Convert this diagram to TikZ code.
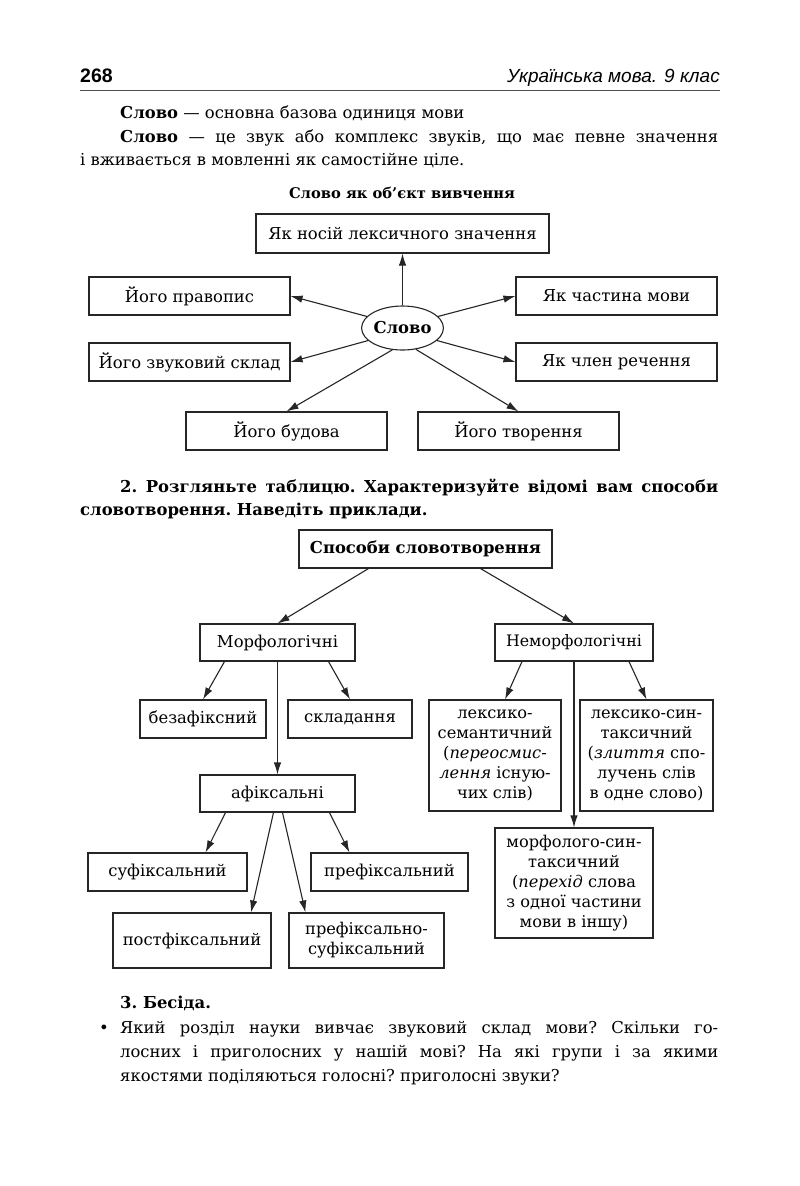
\documentclass[tikz,border=0pt]{standalone}
\usepackage{fontspec}
\setmainfont{DejaVu Serif}
\newfontfamily\hdrfont{Liberation Sans}
\usetikzlibrary{arrows.meta,shapes.geometric}
\newcommand\fsbody{\fontsize{16.4}{21.5}\selectfont\frenchspacing}
\newcommand\fsmulti{\fontsize{16.2}{20}\selectfont\frenchspacing}
\newcommand\fshead{\fontsize{14.7}{17}\selectfont\frenchspacing}
\begin{document}
\begin{tikzpicture}[x=1pt,y=-1pt,
  bx/.style={draw=black!85, line width=1.1pt, inner sep=0pt, minimum height=38pt, font=\fsbody, align=center},
  mbx/.style={bx, font=\fsmulti},
  txt/.style={inner sep=0pt, anchor=base west, font=\fsbody},
  arr/.style={draw=black!85, line width=1.1pt, -{Latex[length=12pt,width=7.5pt]}}]
\fill[white] (0,0) rectangle (800,1186);
\useasboundingbox (0,0) rectangle (800,1186);
% header
\node[inner sep=0pt, anchor=base west, font=\hdrfont\bfseries\fontsize{19.5}{19.5}\selectfont] (pg) at (80,82) {268};
\node[inner sep=0pt, anchor=base east, font=\hdrfont\itshape\fontsize{19}{19}\selectfont] (ttl) at (720,82) {Українська мова. 9 клас};
\draw[line width=1.6pt, black!70] (80,90.5) -- (720,90.5);
% intro text
\node[txt] (l1) at (120,118) {\textbf{Слово} — основна базова одиниця мови};
\node[txt] (l2) at (120,142) {\makebox[598pt][s]{\textbf{Слово} — це звук або комплекс звуків, що має певне значення}};
\node[txt] (l3) at (80,165) {і вживається в мовленні як самостійне ціле.};
\node[inner sep=0pt, anchor=base, font=\fshead\bfseries] (h1) at (402,198) {Слово як об’єкт вивчення};
% diagram 1
\node[bx, minimum width=293pt, minimum height=39pt] (nos) at (402.5,233.5) {Як носій лексичного значення};
\node[bx, minimum width=201pt] (prav) at (189.5,296) {Його правопис};
\node[bx, minimum width=201pt] (chast) at (616.5,296) {Як частина мови};
\node[bx, minimum width=201pt] (zv) at (189.5,362) {Його звуковий склад};
\node[bx, minimum width=201pt] (chlen) at (616.5,362) {Як член речення};
\node[bx, minimum width=201pt] (bud) at (286.5,431) {Його будова};
\node[bx, minimum width=201pt] (tvor) at (518.5,431) {Його творення};
\node[ellipse, draw=black!85, line width=1.1pt, inner sep=0pt, minimum width=78pt, minimum height=44pt, font=\fsbody\bfseries] (slovo) at (402.5,328) {Слово};
\draw[arr] (slovo.north) -- (nos.south);
\draw[arr] (slovo.162) -- (prav.east);
\draw[arr] (slovo.18) -- (chast.west);
\draw[arr] (slovo.200) -- (zv.east);
\draw[arr] (slovo.340) -- (chlen.west);
\draw[arr] (slovo.245) -- (bud.north);
\draw[arr] (slovo.302) -- (tvor.north);
% task 2
\node[txt, font=\fsbody\bfseries] (t2a) at (120,492) {\makebox[598pt][s]{2. Розгляньте таблицю. Характеризуйте відомі вам способи}};
\node[txt, font=\fsbody\bfseries] (t2b) at (80,515) {словотворення. Наведіть приклади.};
% diagram 2
\node[bx, minimum width=253pt, font=\fsbody\bfseries] (sposoby) at (425.5,549) {Способи словотворення};
\node[bx, minimum width=155pt, minimum height=37pt] (morf) at (277.5,642.5) {Морфологічні};
\node[bx, minimum width=158pt, minimum height=37pt, font=\fontsize{15.8}{18}\selectfont] (nemorf) at (574,642.5) {Неморфологічні};
\node[bx, minimum width=126pt] (bez) at (203,719) {безафіксний};
\node[bx, minimum width=124pt] (skl) at (350,719) {складання};
\node[mbx, minimum width=132pt, minimum height=111pt] (lexsem) at (495,755.5) {лексико-\\семантичний\\(\textit{переосмис-}\\\textit{лення} існую-\\чих слів)};
\node[mbx, minimum width=133pt, minimum height=111pt] (lexsyn) at (646.5,755.5) {лексико-син-\\таксичний\\(\textit{злиття} спо-\\лучень слів\\в одне слово)};
\node[bx, minimum width=155pt, minimum height=37pt] (afiks) at (277.5,793.5) {афіксальні};
\node[mbx, minimum width=158pt, minimum height=110pt] (morfsyn) at (574,883) {морфолого-син-\\таксичний\\(\textit{перехід} слова\\з одної частини\\мови в іншу)};
\node[bx, minimum width=159pt] (suf) at (167.5,872) {суфіксальний};
\node[bx, minimum width=157pt] (pref) at (389.5,872) {префіксальний};
\node[bx, minimum width=158pt, minimum height=55pt] (post) at (192,940.5) {постфіксальний};
\node[mbx, minimum width=155pt, minimum height=55pt] (prefsuf) at (366.5,940.5) {префіксально-\\суфіксальний};
\draw[arr] ([xshift=-57pt]sposoby.south) -- (morf.north);
\draw[arr] ([xshift=55pt]sposoby.south) -- (nemorf.north);
\draw[arr] ([xshift=-53pt]morf.south) -- (bez.north);
\draw[arr] (morf.south) -- (afiks.north);
\draw[arr] ([xshift=51pt]morf.south) -- (skl.north);
\draw[arr] ([xshift=-52pt]nemorf.south) -- ([xshift=10pt]lexsem.north);
\draw[arr] (nemorf.south) -- (morfsyn.north);
\draw[arr] ([xshift=55pt]nemorf.south) -- (lexsyn.north);
\draw[arr] ([xshift=-52pt]afiks.south) -- ([xshift=38pt]suf.north);
\draw[arr] ([xshift=-4pt]afiks.south) -- ([xshift=59pt]post.north);
\draw[arr] ([xshift=5pt]afiks.south) -- ([xshift=-61pt]prefsuf.north);
\draw[arr] ([xshift=52pt]afiks.south) -- ([xshift=-40pt]pref.north);
% task 3
\node[txt, font=\fsbody\bfseries] (t3) at (120,1008) {3. Бесіда.};
\node[inner sep=0pt, anchor=base, font=\fsbody] (bul) at (104,1033) {•};
\node[txt] (q1) at (120,1033) {\makebox[598pt][s]{Який розділ науки вивчає звуковий склад мови? Скільки го-}};
\node[txt] (q2) at (120,1057) {\makebox[598pt][s]{лосних і приголосних у нашій мові? На які групи і за якими}};
\node[txt] (q3) at (120,1081) {якостями поділяються голосні? приголосні звуки?};
\end{tikzpicture}
\end{document}
